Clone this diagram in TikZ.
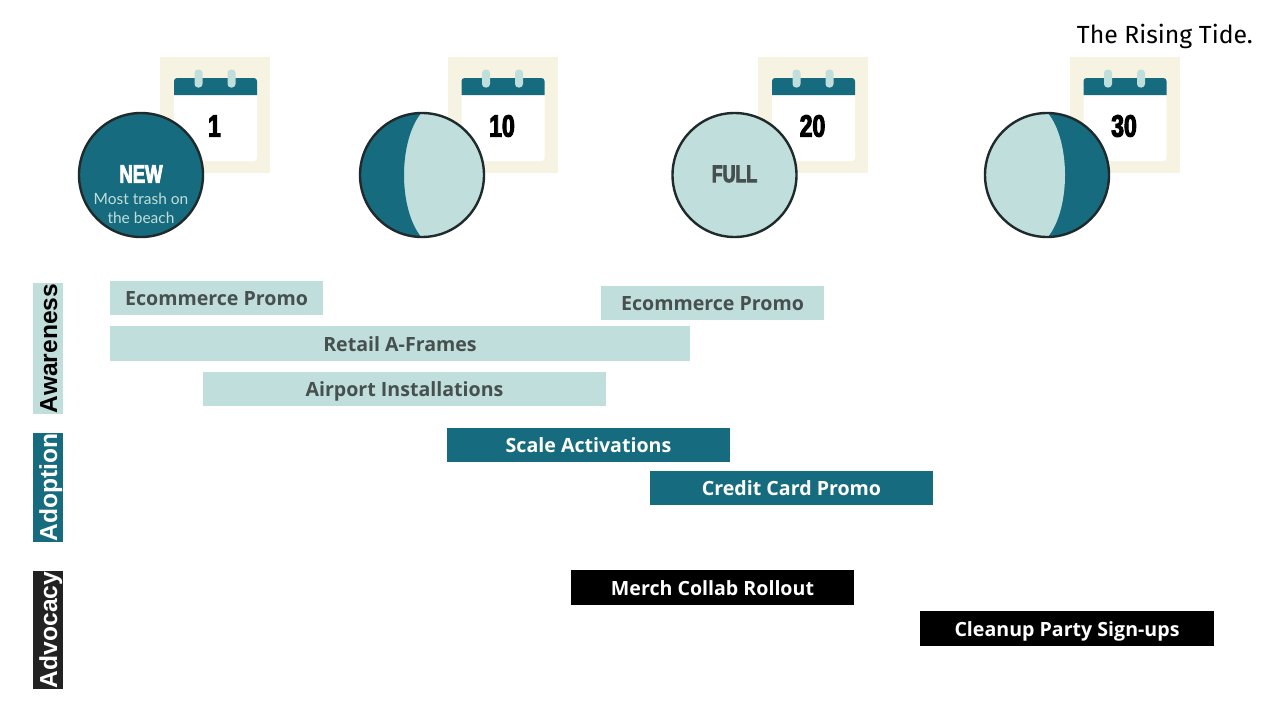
\documentclass[tikz,border=0pt]{standalone}
\usepackage{fontspec}
\setmainfont{Lato}
\newfontfamily\barfontbase{Open Sans}
\newcommand{\barfont}{\barfontbase\bfseries}
\newfontfamily\sidefontbase{Liberation Sans}
\newcommand{\sidefont}{\sidefontbase\bfseries}
\newfontfamily\titlefont{Fira Sans}
\newfontfamily\impactbase[FakeStretch=0.74,BoldFeatures={FakeStretch=0.74,FakeBold=3.2}]{Liberation Sans}
\newcommand{\impactfont}{\impactbase\bfseries}
\definecolor{teal}{HTML}{176B7E}
\definecolor{pale}{HTML}{C0DEDB}
\definecolor{cream}{HTML}{F7F3E3}
\definecolor{ink}{HTML}{46504F}
\definecolor{rim}{HTML}{1F2A2C}
\definecolor{sidedark}{HTML}{222222}
\tikzset{
  x=1pt,y=-1pt,
  barbox/.style={inner sep=0pt,minimum height=34.5pt,font=\barfont\fontsize{19.6}{24}\selectfont,text height=15pt,text depth=0pt},
  lightbar/.style={barbox,fill=pale,text=ink},
  tealbar/.style={barbox,fill=teal,text=white},
  blackbar/.style={barbox,fill=black,text=white},
  sidebox/.style={inner sep=0pt,rotate=90,minimum height=30pt,font=\sidefont\fontsize{24.6}{30}\selectfont,text height=18pt,text depth=0pt},
  daynum/.style={inner sep=0pt,font=\impactfont\fontsize{31}{32}\selectfont,text=black},
  moonrim/.style={draw=rim,line width=2.4pt},
  moonlabel/.style={inner sep=0pt,font=\impactfont\fontsize{25}{28}\selectfont},
}
\newcommand{\calsheet}[2]{%
  \begin{scope}[shift={(#1,0)}]
    \fill[cream] (0,57) rectangle (110,173);
    \fill[white,rounded corners=3pt] (14,85) rectangle (97,161);
    \fill[teal] (14,95) [rounded corners=3pt] -- (14,78) -- (97,78) [sharp corners] -- (97,95) -- cycle;
    \fill[pale,rounded corners=3.5pt] (34.5,69.5) rectangle (42.5,87.5);
    \fill[pale,rounded corners=3.5pt] (67.5,69.5) rectangle (75.5,87.5);
  \end{scope}%
  \node[daynum] (day#2) at (#1+54.5,126) {#2};%
}
\begin{document}
\begin{tikzpicture}
\useasboundingbox[fill=white] (0,0) rectangle (1279,715);

\calsheet{160}{1}
\calsheet{447.5}{10}
\calsheet{758}{20}
\calsheet{1069.5}{30}

% moons
\fill[teal] (141,175) circle[radius=62];
\draw[moonrim] (141,175) circle[radius=62];
\node[moonlabel,text=white] (newlabel) at (141,174) {NEW};
\node[inner sep=0pt,align=center,text=pale,font=\fontsize{15.5}{19}\selectfont] (newnote) at (141,208.5) {Most trash on\\the beach};

\begin{scope}
  \clip (422,175) circle[radius=62];
  \fill[pale] (360,113) rectangle (484,237);
  \fill[teal] (360,110) -- (422,110) -- (422,112) .. controls (398,140) and (398,210) .. (422,238) -- (422,240) -- (360,240) -- cycle;
\end{scope}
\draw[moonrim] (422,175) circle[radius=62];

\fill[pale] (734.5,175) circle[radius=62];
\draw[moonrim] (734.5,175) circle[radius=62];
\node[moonlabel,text=ink,font=\impactfont\fontsize{24}{28}\selectfont] (fulllabel) at (734.5,174) {FULL};

\begin{scope}
  \clip (1047,175) circle[radius=62];
  \fill[teal] (985,113) rectangle (1109,237);
  \fill[pale] (985,110) -- (1047,110) -- (1047,112) .. controls (1071,140) and (1071,210) .. (1047,238) -- (1047,240) -- (985,240) -- cycle;
\end{scope}
\draw[moonrim] (1047,175) circle[radius=62];

% side labels
\node[sidebox,fill=pale,text=black,minimum width=131pt] (awareness) at (48,348.5) {Awareness};
\node[sidebox,fill=teal,text=white,minimum width=109pt] (adoption) at (48,487.5) {Adoption};
\node[sidebox,fill=sidedark,text=white,minimum width=118pt] (advocacy) at (48,630) {Advocacy};

% bars
\node[lightbar,minimum width=213pt] (eco1) at (216.5,298) {Ecommerce Promo};
\node[lightbar,minimum width=223pt] (eco2) at (712.5,303) {Ecommerce Promo};
\node[lightbar,minimum width=580pt] (retail) at (400,343.5) {Retail A-Frames};
\node[lightbar,minimum width=403pt] (airport) at (404.5,389) {Airport Installations};
\node[tealbar,minimum width=283pt] (scale) at (588.5,445) {Scale Activations};
\node[tealbar,minimum width=283pt] (credit) at (791.5,488) {Credit Card Promo};
\node[blackbar,minimum width=283pt] (merch) at (712.5,587.5) {Merch Collab Rollout};
\node[blackbar,minimum width=294pt] (cleanup) at (1067,628.5) {Cleanup Party Sign-ups};

\node[inner sep=0pt,anchor=base east,font=\titlefont\fontsize{24.8}{28}\selectfont,text=black] (title) at (1253,43) {The Rising Tide.};
\end{tikzpicture}
\end{document}
